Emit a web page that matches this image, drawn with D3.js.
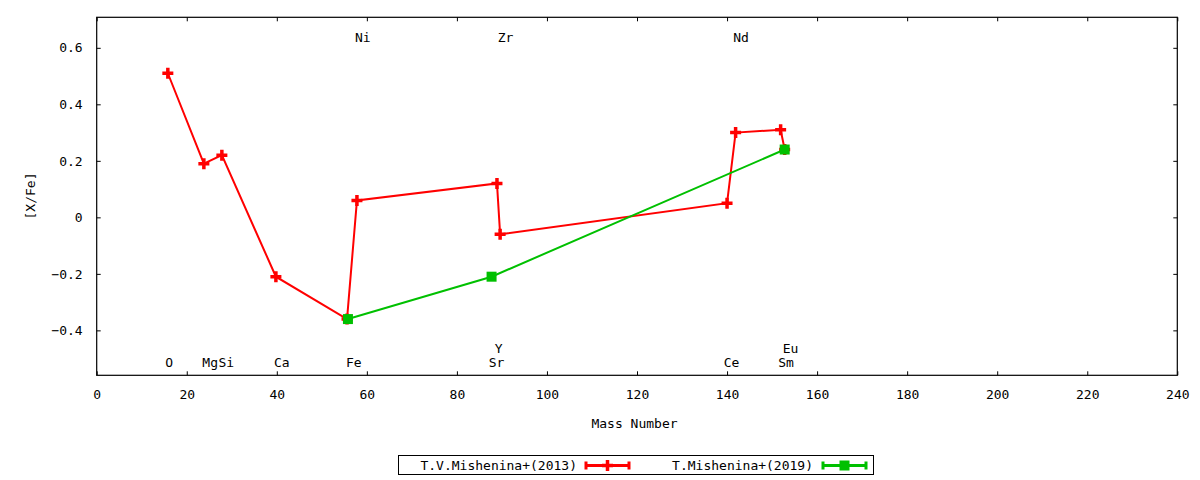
<!DOCTYPE html>
<html>
<head>
<meta charset="utf-8">
<script src="https://cdn.jsdelivr.net/npm/d3@7"></script>
<style>
  body { margin: 0; background: #fff; }
  text { font-family: "DejaVu Sans Mono", monospace; font-size: 13px; fill: #000; }
</style>
</head>
<body>
<div id="chart"></div>
<script>
var width = 1200,
    height = 480,
    margin = {top: 17.3, bottom: 104.7, left: 96.7, right: 22.7};

// T.V.Mishenina+(2013)
var mass2013 = [15.8, 23.8, 27.8, 39.8, 55.6, 57.8, 88.9, 89.6, 140.0, 141.9, 151.9, 152.8];
var xfe2013  = [0.51, 0.19, 0.22, -0.21, -0.36, 0.06, 0.12, -0.06, 0.05, 0.30, 0.31, 0.24];
// T.Mishenina+(2019)
var mass2019 = [55.8, 87.7, 152.8];
var xfe2019  = [-0.36, -0.21, 0.24];

// element labels (data coordinates)
var elemNames = ["O", "Mg", "Si", "Ca", "Fe", "Ni", "Zr", "Nd", "Y", "Sr", "Ce", "Sm", "Eu"];
var elemX     = [16.1, 25.2, 28.8, 41.1, 57.1, 59.1, 90.8, 143.1, 89.3, 88.8, 141.0, 153.1, 154.1];
var elemY     = [-0.515, -0.515, -0.515, -0.515, -0.515, 0.637, 0.637, 0.637, -0.465, -0.515, -0.515, -0.515, -0.465];

var xTicks = [0, 20, 40, 60, 80, 100, 120, 140, 160, 180, 200, 220, 240];
var yTicks = [-0.4, -0.2, 0, 0.2, 0.4, 0.6];

var seriesNames = ["T.V.Mishenina+(2013)", "T.Mishenina+(2019)"];
var colors = ["#ff0000", "#00c000"];

var svg = d3.select("#chart").append("svg")
    .attr("width", width)
    .attr("height", height);

var x = d3.scaleLinear().domain([0, 240]).range([margin.left, width - margin.right]);
var y = d3.scaleLinear().domain([-0.559, 0.708]).range([height - margin.bottom, margin.top]);

var fmt = function(d) { return d === 0 ? "0" : d3.format(".1f")(d); };

// axes with inward ticks
svg.append("g")
    .attr("transform", "translate(0," + (height - margin.bottom) + ")")
    .call(d3.axisBottom(x).tickValues(xTicks).tickSizeInner(-4).tickSizeOuter(0).tickPadding(14).tickFormat(d3.format("d")));
svg.append("g")
    .attr("transform", "translate(" + margin.left + ",0)")
    .call(d3.axisLeft(y).tickValues(yTicks).tickSizeInner(-4).tickSizeOuter(0).tickPadding(14).tickFormat(fmt));
svg.append("g")
    .attr("transform", "translate(0," + margin.top + ")")
    .call(d3.axisTop(x).tickValues(xTicks).tickSizeInner(-4).tickSizeOuter(0).tickFormat(""));
svg.append("g")
    .attr("transform", "translate(" + (width - margin.right) + ",0)")
    .call(d3.axisRight(y).tickValues(yTicks).tickSizeInner(-4).tickSizeOuter(0).tickFormat(""));

svg.selectAll(".domain").remove();
svg.selectAll(".tick line").attr("stroke", "#000");
svg.selectAll(".tick text").style("font-size", "13px").style("font-family", "DejaVu Sans Mono, monospace");

// frame
svg.append("rect")
    .attr("x", margin.left)
    .attr("y", margin.top)
    .attr("width", width - margin.left - margin.right)
    .attr("height", height - margin.top - margin.bottom)
    .attr("fill", "none")
    .attr("stroke", "#000")
    .attr("stroke-width", 1.2);

// axis titles
svg.append("text")
    .attr("x", 634.5)
    .attr("y", 424.5)
    .attr("text-anchor", "middle")
    .attr("dominant-baseline", "middle")
    .text("Mass Number");
svg.append("text")
    .attr("transform", "translate(31,196) rotate(-90)")
    .attr("text-anchor", "middle")
    .attr("dominant-baseline", "middle")
    .text("[X/Fe]");

// element labels
svg.append("g").selectAll("text")
    .data(elemNames)
    .join("text")
    .attr("x", function(d, i) { return x(elemX[i]); })
    .attr("y", function(d, i) { return y(elemY[i]); })
    .attr("text-anchor", "middle")
    .attr("dominant-baseline", "central")
    .text(function(d) { return d; });

var line = d3.line()
    .x(function(d) { return x(d[0]); })
    .y(function(d) { return y(d[1]); });

function plus(g, cx, cy, color) {
    g.append("path")
        .attr("d", "M" + (cx - 5.5) + "," + cy + "H" + (cx + 5.5) + "M" + cx + "," + (cy - 5.5) + "V" + (cy + 5.5))
        .attr("stroke", color)
        .attr("stroke-width", 3.5)
        .attr("fill", "none");
}
function square(g, cx, cy, color) {
    g.append("rect")
        .attr("x", cx - 5)
        .attr("y", cy - 5)
        .attr("width", 10)
        .attr("height", 10)
        .attr("fill", color);
}

var data2013 = mass2013.map(function(m, i) { return [m, xfe2013[i]]; });
var data2019 = mass2019.map(function(m, i) { return [m, xfe2019[i]]; });

var plot = svg.append("g");
plot.append("path").attr("d", line(data2013)).attr("fill", "none").attr("stroke", colors[0]).attr("stroke-width", 2);
data2013.forEach(function(d) { plus(plot, x(d[0]), y(d[1]), colors[0]); });
plot.append("path").attr("d", line(data2019)).attr("fill", "none").attr("stroke", colors[1]).attr("stroke-width", 2);
data2019.forEach(function(d) { square(plot, x(d[0]), y(d[1]), colors[1]); });

// legend
var leg = svg.append("g");
leg.append("rect")
    .attr("x", 398.5).attr("y", 455.5)
    .attr("width", 475).attr("height", 19)
    .attr("fill", "none").attr("stroke", "#000");
var legText = [577, 813], legLine = [586, 823];
seriesNames.forEach(function(name, i) {
    var ly = 465.5;
    leg.append("text")
        .attr("x", legText[i]).attr("y", ly)
        .attr("text-anchor", "end")
        .attr("dominant-baseline", "central")
        .text(name);
    var x0 = legLine[i], x1 = legLine[i] + 43;
    leg.append("path")
        .attr("d", "M" + x0 + "," + ly + "H" + x1 + "M" + x0 + "," + (ly - 4) + "V" + (ly + 4) + "M" + x1 + "," + (ly - 4) + "V" + (ly + 4))
        .attr("stroke", colors[i]).attr("stroke-width", 3).attr("fill", "none");
    if (i === 0) plus(leg, (x0 + x1) / 2, ly, colors[i]);
    else square(leg, (x0 + x1) / 2, ly, colors[i]);
});
</script>
</body>
</html>
